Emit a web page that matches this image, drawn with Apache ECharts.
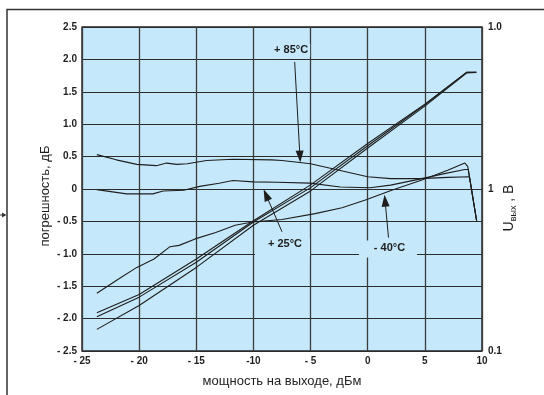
<!DOCTYPE html>
<html>
<head>
<meta charset="utf-8">
<script src="https://cdn.jsdelivr.net/npm/echarts@6/dist/echarts.min.js"></script>
<style>
html,body{margin:0;padding:0;background:#fff;}
#c{width:544px;height:395px;}
</style>
</head>
<body>
<div id="c"></div>
<script>
// Tick labels
const xTickLabels = ['- 25','- 20','- 15','-10','- 5','0','5','10'];
const yLeftTickLabels = ['- 2.5','- 2.0','- 1.5','- 1.0','- 0.5','0','0.5','1.0','1.5','2.0','2.5'];
const yRightTickLabels = ['0.1','1','1.0'];

// Error curves (dB) vs output power (dBm)
const x85 = [-23.7,-22,-20.2,-18.5,-17.6,-16.7,-15.8,-14.1,-11.8,-8.4,-7.5,-5.0,-2.5,0,2,4.5,7,8.9,9.53];
const e85 = [0.53,0.45,0.38,0.36,0.40,0.38,0.39,0.44,0.46,0.45,0.44,0.39,0.29,0.19,0.16,0.16,0.18,0.19,-0.49];
const x25 = [-23.7,-21.1,-18.8,-17.9,-16.1,-14.7,-13,-11.8,-10,-8,-5.05,-2.4,0.2,2,4.75,6.5,8.5,8.8,9.53];
const e25 = [-0.01,-0.075,-0.075,-0.03,-0.02,0.04,0.09,0.13,0.11,0.105,0.09,0.03,0.02,0.06,0.16,0.23,0.30,0.30,-0.49];
const x40 = [-23.7,-21.8,-20.2,-18.7,-17.3,-16.5,-15.1,-13.3,-11.6,-10.1,-7.5,-4.6,-2.25,-0.2,2.1,4.75,7,8.5,8.75,9.53];
const e40 = [-1.61,-1.39,-1.21,-1.08,-0.89,-0.87,-0.77,-0.67,-0.56,-0.51,-0.47,-0.38,-0.29,-0.17,-0.02,0.14,0.29,0.40,0.35,-0.49];

// Output voltage (V, log axis) vs output power (dBm)
const voltX = [-23.7,-20,-15,-10,-5,0,5,8.65,9.5];
const volt1 = [0.172,0.223,0.370,0.637,1.06,1.91,3.34,5.25,5.25];
const volt2 = [0.163,0.215,0.353,0.625,1.02,1.85,3.31,5.25,5.25];
const volt3 = [0.136,0.191,0.328,0.597,0.973,1.79,3.25,5.20,5.25];

// Annotations
const annoText = ['+ 85°C','+ 25°C','- 40°C'];
const annoPos = [[-6.7,2.14],[-7.46,-0.903],[1.77,-0.926]];
const annoBox = [[38,13],[55,18],[58,17]];
const annoOffset = [[0,0],[2.5,-3.5],[1.5,-1.5]];
const arrows = [[[-6.39,1.96],[-5.93,0.50]],[[-7.5,-0.66],[-8.9,-0.09]],[[1.82,-0.75],[1.52,-0.18]]];

const BG = '#c5e8fa';
const INK = '#1e1e1e';
const tickFont = {fontFamily:'Liberation Sans', fontWeight:'bold', fontSize:10, color:INK};

const zip = (xs, ys) => xs.map((x,i)=>[x, ys[i]]);

const lineBase = {
  type:'line', showSymbol:false, symbol:'none', silent:true,
  lineStyle:{color:INK, width:1.1}, emphasis:{disabled:true}
};

const chart = echarts.init(document.getElementById('c'), null, {renderer:'canvas'});
chart.setOption({
  animation:false,
  backgroundColor:'#fff',
  grid:{left:82, right:62, top:27, bottom:44, show:true, backgroundColor:BG, borderColor:'#222', borderWidth:1.4},
  xAxis:{
    type:'value', min:-25, max:10, interval:5,
    axisLine:{show:false}, axisTick:{show:false},
    axisLabel:Object.assign({margin:5, formatter:v=>xTickLabels[Math.round((v+25)/5)]}, tickFont),
    splitLine:{show:true, lineStyle:{color:'#3c3c3c', width:1.3}}
  },
  yAxis:[{
    type:'value', min:-2.5, max:2.5, interval:0.5, position:'left',
    axisLine:{show:false}, axisTick:{show:false},
    axisLabel:Object.assign({margin:5, formatter:v=>yLeftTickLabels[Math.round((v+2.5)/0.5)]}, tickFont),
    splitLine:{show:true, lineStyle:{color:'#2c2c2c', width:1.2}}
  },{
    type:'log', logBase:10, min:0.1, max:10, interval:1, position:'right',
    axisLine:{show:false}, axisTick:{show:false}, splitLine:{show:false},
    axisLabel:Object.assign({margin:6, formatter:v=>yRightTickLabels[Math.round(Math.log10(v))+1]}, tickFont)
  }],
  series:[
    Object.assign({}, lineBase, {name:'+85', data:zip(x85,e85), yAxisIndex:0}),
    Object.assign({}, lineBase, {name:'+25', data:zip(x25,e25), yAxisIndex:0}),
    Object.assign({}, lineBase, {name:'-40', data:zip(x40,e40), yAxisIndex:0,
      markLine:{
        silent:true, symbol:['none','triangle'], symbolSize:[8,12],
        lineStyle:{color:INK, width:1, type:'solid'}, label:{show:false},
        emphasis:{disabled:true},
        data:arrows.map(a=>[{coord:a[0]},{coord:a[1]}])
      },
      markPoint:{
        silent:true,
        data:annoText.map((t,i)=>({
          coord:annoPos[i], value:t, symbol:'rect', symbolSize:annoBox[i],
          itemStyle:{color:BG},
          label:{show:true, formatter:t, position:'inside', offset:annoOffset[i],
            fontFamily:'Liberation Sans', fontWeight:'bold', fontSize:11, color:INK}
        }))
      }
    }),
    Object.assign({}, lineBase, {name:'U1', data:zip(voltX,volt1), yAxisIndex:1}),
    Object.assign({}, lineBase, {name:'U2', data:zip(voltX,volt2), yAxisIndex:1}),
    Object.assign({}, lineBase, {name:'U3', data:zip(voltX,volt3), yAxisIndex:1})
  ],
  graphic:[
    {type:'polyline', silent:true, shape:{points:[[7,395],[7,9.5],[544,9.5]]}, style:{stroke:'#333', lineWidth:1.5, fill:null}},
    {type:'line', silent:true, shape:{x1:0,y1:215,x2:5,y2:215}, style:{stroke:'#333', lineWidth:1}},
    {type:'polygon', silent:true, shape:{points:[[2,212.5],[6.5,215],[2,217.5]]}, style:{fill:'#333'}},
    {type:'text', silent:true, x:45, y:196, rotation:Math.PI/2,
      style:{text:'погрешность, дБ', fontFamily:'Liberation Sans', fontSize:13, fill:INK,
        align:'center', verticalAlign:'middle', textAlign:'center', textVerticalAlign:'middle'}},
    {type:'text', silent:true, x:282, y:381,
      style:{text:'мощность на выходе, дБм', fontFamily:'Liberation Sans', fontSize:13, fill:INK,
        align:'center', verticalAlign:'middle', textAlign:'center', textVerticalAlign:'middle'}},
    {type:'text', silent:true, x:509, y:208, rotation:Math.PI/2,
      style:{text:'{u|U}{s|вых}{n| , В}', fill:INK,
        align:'center', verticalAlign:'middle', textAlign:'center', textVerticalAlign:'middle',
        rich:{
          u:{fontFamily:'Liberation Sans', fontSize:14, fill:INK, verticalAlign:'bottom'},
          s:{fontFamily:'Liberation Sans', fontSize:9, fill:INK, verticalAlign:'bottom', padding:[0,0,-2,0]},
          n:{fontFamily:'Liberation Sans', fontSize:14, fill:INK, verticalAlign:'bottom'}
        }}}
  ]
});
</script>
</body>
</html>
